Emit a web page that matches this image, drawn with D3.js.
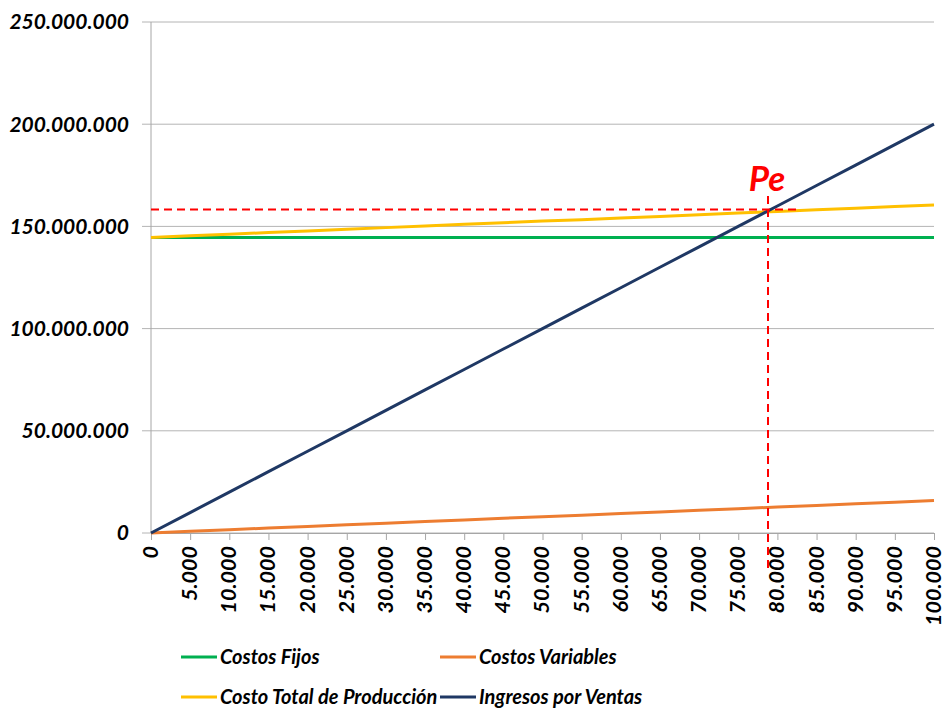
<!DOCTYPE html>
<meta charset="UTF-8">
<style>
body { margin: 0; background: #fff; }
text { font-family: Lato, "Open Sans", sans-serif; font-weight: bold; font-style: italic; fill: #000; }
.grid line { stroke: #b4b4b4; stroke-width: 1px; }
.line { fill: none; stroke-width: 3px; stroke-linejoin: round; }
</style>
<body>
<script src="https://d3js.org/d3.v7.min.js"></script>
<script>
// units produced / sold
var unidades = [0, 5000, 10000, 15000, 20000, 25000, 30000, 35000, 40000, 45000, 50000,
  55000, 60000, 65000, 70000, 75000, 80000, 85000, 90000, 95000, 100000];

var costosFijos = [144600000, 144600000, 144600000, 144600000, 144600000, 144600000, 144600000,
  144600000, 144600000, 144600000, 144600000, 144600000, 144600000, 144600000, 144600000,
  144600000, 144600000, 144600000, 144600000, 144600000, 144600000];

var costosVariables = [0, 800000, 1600000, 2400000, 3200000, 4000000, 4800000, 5600000, 6400000,
  7200000, 8000000, 8700000, 9500000, 10300000, 11100000, 11900000, 12700000, 13500000,
  14300000, 15100000, 15900000];

var costoTotal = [144600000, 145400000, 146200000, 147000000, 147800000, 148600000, 149400000,
  150200000, 151000000, 151800000, 152600000, 153300000, 154100000, 154900000, 155700000,
  156500000, 157300000, 158100000, 158900000, 159700000, 160500000];

var ingresos = [0, 10000000, 20000000, 30000000, 40000000, 50000000, 60000000, 70000000,
  80000000, 90000000, 100000000, 110000000, 120000000, 130000000, 140000000, 150000000,
  160000000, 170000000, 180000000, 190000000, 200000000];

var yTicks = [0, 50000000, 100000000, 150000000, 200000000, 250000000];

// break-even point
var puntoEquilibrio = { x: 78800, y: 158300000 };

var series = [
  { name: "Costos Fijos", values: costosFijos, color: "#00b050" },
  { name: "Costos Variables", values: costosVariables, color: "#ed7d31" },
  { name: "Costo Total de Producción", values: costoTotal, color: "#ffc000" },
  { name: "Ingresos por Ventas", values: ingresos, color: "#1f3864" }
];

var locale = d3.formatLocale({ decimal: ",", thousands: ".", grouping: [3], currency: ["$", ""] });
var fmt = locale.format(",");

var svg = d3.select("body").append("svg")
  .attr("width", 945)
  .attr("height", 709);

var x = d3.scaleLinear().domain([0, 100000]).range([151, 934]);
var y = d3.scaleLinear().domain([0, 250000000]).range([533, 22]);

// horizontal gridlines
svg.append("g")
  .attr("class", "grid")
  .selectAll("line")
  .data(yTicks)
  .enter().append("line")
    .attr("x1", 142).attr("x2", 934)
    .attr("y1", d => y(d)).attr("y2", d => y(d));

// y axis line
svg.append("line")
  .attr("x1", 151).attr("x2", 151)
  .attr("y1", y(250000000)).attr("y2", 533)
  .attr("stroke", "#a6a6a6");

// x axis
var xAxis = svg.append("g")
  .attr("transform", "translate(0,533)")
  .call(d3.axisBottom(x).tickValues(unidades).tickFormat(fmt).tickSize(7).tickSizeOuter(0));
xAxis.select(".domain").attr("stroke", "#a6a6a6");
xAxis.selectAll(".tick line").attr("stroke", "#a6a6a6");
xAxis.selectAll(".tick text")
  .attr("transform", "rotate(-90)")
  .attr("x", -13).attr("y", 0).attr("dy", "0.3em")
  .style("text-anchor", "end")
  .style("font-size", "21.5px");

// y labels
svg.append("g")
  .selectAll("text")
  .data(yTicks)
  .enter().append("text")
    .attr("x", 129)
    .attr("y", d => y(d))
    .attr("dy", "0.35em")
    .style("text-anchor", "end")
    .style("font-size", "21px")
    .text(d => fmt(d));

// series lines
var line = d3.line()
  .x((d, i) => x(unidades[i]))
  .y(d => y(d));

svg.selectAll(".line")
  .data(series)
  .enter().append("path")
    .attr("class", "line")
    .attr("stroke", d => d.color)
    .attr("d", d => line(d.values));

// break-even guides
svg.append("line")
  .attr("x1", x(0)).attr("x2", x(puntoEquilibrio.x) + 29)
  .attr("y1", y(puntoEquilibrio.y)).attr("y2", y(puntoEquilibrio.y))
  .attr("stroke", "#ff0000").attr("stroke-width", 2).attr("stroke-dasharray", "8,5");

svg.append("line")
  .attr("x1", x(puntoEquilibrio.x)).attr("x2", x(puntoEquilibrio.x))
  .attr("y1", 196).attr("y2", 568)
  .attr("stroke", "#ff0000").attr("stroke-width", 2).attr("stroke-dasharray", "8,5");

svg.append("text")
  .attr("x", x(puntoEquilibrio.x) - 1)
  .attr("y", 191)
  .style("text-anchor", "middle")
  .style("font-size", "35px")
  .style("fill", "#ff0000")
  .text("Pe");

// legend
var legendPos = [[181, 657], [440, 657], [181, 697], [440, 697]];
var legend = svg.selectAll(".legend")
  .data(series)
  .enter().append("g")
    .attr("class", "legend")
    .attr("transform", (d, i) => "translate(" + legendPos[i][0] + "," + legendPos[i][1] + ")");

legend.append("line")
  .attr("x1", 0).attr("x2", 36)
  .attr("stroke", d => d.color)
  .attr("stroke-width", 3);

legend.append("text")
  .attr("x", 39)
  .attr("dy", "0.35em")
  .style("font-size", "20px")
  .text(d => d.name);
</script>
</body>
